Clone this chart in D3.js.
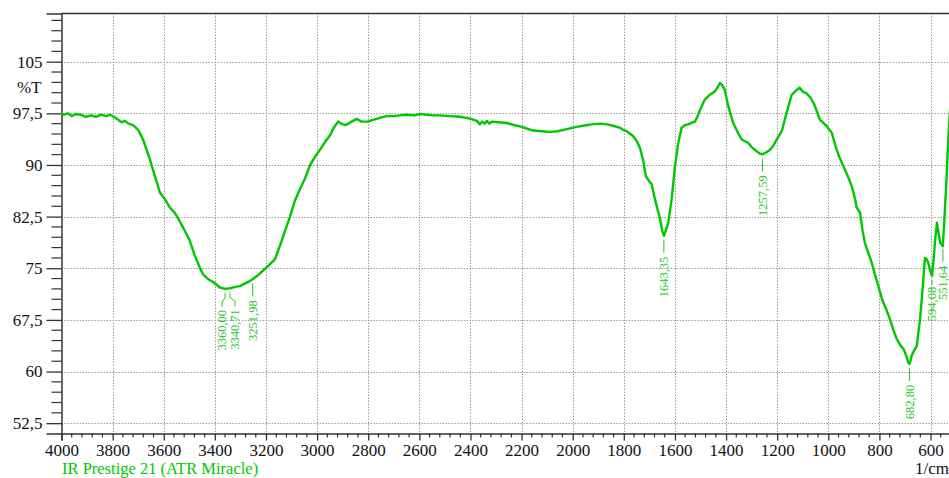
<!DOCTYPE html>
<html>
<head>
<meta charset="utf-8">
<script src="https://cdn.jsdelivr.net/npm/d3@7"></script>
<style>
  html, body { margin: 0; padding: 0; background: #fff; }
  svg { display: block; }
  text { font-family: "Liberation Serif", "Times New Roman", serif; }
</style>
</head>
<body>
<svg id="chart" width="949" height="478"></svg>
<script>
// IR spectrum: wavenumber (1/cm) and transmittance (%T)
const wavenumber = [
  4000, 3990, 3975, 3960, 3945, 3925, 3905, 3885, 3865, 3845, 3825, 3810, 3795, 3780, 3765, 3752,
  3738, 3720, 3700, 3681, 3654, 3634, 3615, 3595, 3576, 3556, 3540, 3517, 3500, 3478, 3460, 3446,
  3425, 3407, 3380, 3360, 3340, 3320, 3302, 3282, 3265, 3252, 3231, 3204, 3184, 3165, 3145, 3125,
  3106, 3087, 3067, 3048, 3027, 3008, 2989, 2968, 2948, 2935, 2918, 2905, 2891, 2878, 2865, 2845,
  2826, 2801, 2785, 2767, 2748, 2728, 2700, 2676, 2650, 2620, 2598, 2570, 2545, 2520, 2480, 2441,
  2410, 2390, 2375, 2363, 2355, 2345, 2335, 2326, 2317, 2290, 2258, 2230, 2206, 2180, 2155, 2120,
  2089, 2060, 2023, 1990, 1960, 1925, 1893, 1865, 1842, 1815, 1803, 1789, 1764, 1750, 1737, 1725,
  1714, 1700, 1691, 1678, 1658, 1648, 1643, 1636, 1626, 1613, 1600, 1587, 1574, 1560, 1548, 1535,
  1522, 1512, 1502, 1483, 1463, 1443, 1433, 1424, 1415, 1405, 1391, 1372, 1355, 1339, 1313, 1300,
  1287, 1270, 1258, 1250, 1240, 1228, 1215, 1202, 1182, 1163, 1143, 1124, 1112, 1098, 1085, 1070,
  1055, 1045, 1033, 1010, 987, 967, 955, 941, 925, 908, 895, 889, 876, 866, 857, 843,
  830, 817, 804, 790, 775, 759, 745, 732, 718, 706, 695, 687, 683, 678, 674, 665,
  654, 648, 641, 630, 622, 615, 609, 600, 594, 588, 581, 575, 568, 562, 556, 552,
  546, 539, 530, 522
];
const transmittance = [
  97.5, 97.3, 97.5, 97.1, 97.4, 97.3, 97.0, 97.2, 97.0, 97.3, 97.1, 97.3, 97.0, 96.6, 96.2, 96.4,
  96.0, 95.8, 95.1, 93.7, 90.8, 88.3, 86.0, 85.0, 83.8, 83.0, 82.0, 80.4, 79.2, 76.8, 75.2, 74.1,
  73.4, 73.0, 72.2, 72.0, 72.1, 72.3, 72.4, 72.8, 73.1, 73.4, 74.0, 74.9, 75.6, 76.3, 78.3, 80.5,
  82.5, 84.8, 86.5, 88.0, 90.0, 91.2, 92.2, 93.4, 94.4, 95.4, 96.3, 96.0, 95.8, 96.0, 96.3, 96.7,
  96.3, 96.3, 96.5, 96.7, 96.9, 97.1, 97.1, 97.2, 97.3, 97.2, 97.4, 97.3, 97.2, 97.2, 97.1, 97.0,
  96.8, 96.6, 96.4, 95.9, 96.3, 96.0, 96.4, 96.0, 96.3, 96.2, 96.1, 95.8, 95.6, 95.3, 95.0, 94.9,
  94.8, 94.9, 95.2, 95.5, 95.7, 95.9, 96.0, 95.9, 95.7, 95.4, 95.1, 94.9, 94.2, 93.5, 92.5, 90.8,
  88.4, 87.6, 87.2, 85.0, 82.1, 80.2, 79.7, 80.5, 81.6, 85.0, 89.8, 93.2, 95.4, 95.8, 95.9, 96.1,
  96.3, 97.0, 98.0, 99.5, 100.2, 100.7, 101.3, 101.9, 101.6, 100.9, 98.5, 96.1, 94.8, 93.7, 93.2, 92.6,
  92.2, 91.7, 91.55, 91.7, 91.9, 92.2, 92.8, 93.7, 94.9, 97.6, 100.2, 100.9, 101.2, 100.6, 100.4, 99.8,
  98.8, 97.8, 96.6, 95.8, 94.7, 92.2, 91.0, 89.8, 88.5, 86.9, 85.0, 83.8, 83.1, 80.5, 78.7, 77.2,
  75.8, 74.0, 72.4, 70.5, 69.2, 67.6, 66.0, 64.7, 63.8, 63.3, 62.3, 61.3, 61.1, 61.6, 62.3, 63.0,
  63.7, 65.5, 67.6, 72.5, 76.5, 76.3, 75.8, 74.5, 73.9, 76.3, 79.5, 81.6, 80.0, 78.7, 78.4, 78.2,
  82.0, 86.9, 94.2, 99.0
];

// Picked peaks
const peakWavenumbers = [3360.00, 3340.71, 3251.98, 1643.35, 1257.59, 682.80, 594.08, 551.64];
const peakLabels = ["3360,00", "3340,71", "3251,98", "1643,35", "1257,59", "682,80", "594,08", "551,64"];

// Axis ticks
const xTickValues = [4000, 3800, 3600, 3400, 3200, 3000, 2800, 2600, 2400, 2200, 2000, 1800, 1600, 1400, 1200, 1000, 800, 600];
const xTickLabels = ["4000", "3800", "3600", "3400", "3200", "3000", "2800", "2600", "2400", "2200", "2000", "1800", "1600", "1400", "1200", "1000", "800", "600"];
const yTickValues = [52.5, 60, 67.5, 75, 82.5, 90, 97.5, 105];
const yTickLabels = ["52,5", "60", "67,5", "75", "82,5", "90", "97,5", "105"];

const instrumentName = "IR Prestige 21 (ATR Miracle)";
const xUnit = "1/cm";
const yUnit = "%T";

// ---------------------------------------------------------------
const svg = d3.select("#chart");
const plotLeft = 61.5, plotTop = 13.5, plotBottom = 433.5, plotRight = 949;
const green = "#00c800";
const labelGreen = "#22c822";

const x = d3.scaleLinear().domain([4000, 400]).range([plotLeft, plotLeft + 3600 * 0.2556]);
const y = d3.scaleLinear().domain([51, 112]).range([plotBottom, plotTop]);

const spectrum = wavenumber.map((w, i) => ({ w, t: transmittance[i] }));

// Grid
const grid = svg.append("g").attr("stroke", "#9a9a9a").attr("stroke-width", 1)
  .attr("stroke-dasharray", "1.5,1.5");
grid.selectAll("line.v").data(xTickValues.slice(1)).join("line").attr("class", "v")
  .attr("x1", d => Math.round(x(d)) + 0.5).attr("x2", d => Math.round(x(d)) + 0.5)
  .attr("y1", plotTop).attr("y2", plotBottom);
grid.selectAll("line.h").data(yTickValues).join("line").attr("class", "h")
  .attr("x1", plotLeft).attr("x2", plotRight)
  .attr("y1", d => Math.round(y(d)) + 0.5).attr("y2", d => Math.round(y(d)) + 0.5);

// Frame (top edge)
svg.append("line").attr("x1", plotLeft).attr("x2", plotRight).attr("y1", plotTop).attr("y2", plotTop)
  .attr("stroke", "#333").attr("stroke-width", 1.5);

// X axis
const minorX = d3.range(4000, 399, -40).filter(d => d % 200 !== 0);
const xAxis = d3.axisBottom(x).tickValues(xTickValues)
  .tickFormat((d, i) => xTickLabels[i]).tickSize(7).tickPadding(3);
const gx = svg.append("g").attr("transform", `translate(0,${plotBottom})`).call(xAxis);
gx.select(".domain").attr("stroke", "#333").attr("stroke-width", 1.5);
gx.selectAll(".tick line").attr("stroke", "#333").attr("stroke-width", 1.3);
gx.selectAll(".tick text").attr("font-size", 17).attr("fill", "#111")
  .attr("font-family", "Liberation Serif, serif");
gx.selectAll("line.minor").data(minorX).join("line").attr("class", "minor")
  .attr("x1", d => x(d)).attr("x2", d => x(d)).attr("y1", 0).attr("y2", 4)
  .attr("stroke", "#333").attr("stroke-width", 1.2);

// Y axis
const minorY = d3.range(52.5, 111.6, 1.5).filter(d => !yTickValues.some(v => Math.abs(v - d) < 1e-6));
const yAxis = d3.axisLeft(y).tickValues(yTickValues)
  .tickFormat((d, i) => yTickLabels[i]).tickSize(15).tickPadding(4);
const gy = svg.append("g").attr("transform", `translate(${plotLeft},0)`).call(yAxis);
gy.select(".domain").attr("stroke", "#333").attr("stroke-width", 1.5);
gy.selectAll(".tick line").attr("stroke", "#333").attr("stroke-width", 1.3);
gy.selectAll(".tick text").attr("font-size", 17).attr("fill", "#111")
  .attr("font-family", "Liberation Serif, serif");
gy.selectAll("line.minor").data(minorY).join("line").attr("class", "minor")
  .attr("x1", -10).attr("x2", 0).attr("y1", d => y(d)).attr("y2", d => y(d))
  .attr("stroke", "#333").attr("stroke-width", 1.2);

// Axis titles
svg.append("text").attr("x", 41.5).attr("y", y((105 + 97.5) / 2)).attr("dy", "0.35em")
  .attr("text-anchor", "end").attr("font-size", 17).attr("fill", "#111").text(yUnit);
svg.append("text").attr("x", 915).attr("y", 474).attr("font-size", 17).attr("fill", "#111").text(xUnit);
svg.append("text").attr("x", 62).attr("y", 474).attr("font-size", 16.5).attr("fill", green).text(instrumentName);

// Spectrum trace
const clip = svg.append("clipPath").attr("id", "plot-clip");
clip.append("rect").attr("x", plotLeft).attr("y", plotTop)
  .attr("width", plotRight - plotLeft).attr("height", plotBottom - plotTop);
svg.append("path").datum(spectrum)
  .attr("clip-path", "url(#plot-clip)")
  .attr("fill", "none").attr("stroke", green).attr("stroke-width", 2.4)
  .attr("stroke-linejoin", "round").attr("stroke-linecap", "round")
  .attr("d", d3.line().x(d => x(d.w)).y(d => y(d.t)));

// Peak markers: leader line + rotated value label
const bis = d3.bisector(d => -d.w).left;
function traceAt(w) {
  const i = Math.max(1, Math.min(spectrum.length - 1, bis(spectrum, -w)));
  const a = spectrum[i - 1], b = spectrum[i];
  const f = (w - a.w) / (b.w - a.w);
  return a.t + f * (b.t - a.t);
}
// label offsets (px) for crowded peaks, and leader lengths
const labelShift = { "3360,00": -3, "3340,71": 5 };
const shortLead = { "594,08": true };

const peaks = svg.append("g");
peakWavenumbers.forEach((w, i) => {
  const lbl = peakLabels[i];
  const px = x(w);
  const py = y(traceAt(w));
  const shift = labelShift[lbl] || 0;
  const lx = px + shift;
  let pts, textTop;
  if (shortLead[lbl]) {
    pts = [[px, py + 4], [px, py + 9]];
    textTop = py + 11;
  } else if (shift !== 0) {
    pts = [[px, py + 4], [px, py + 9], [lx, py + 13], [lx, py + 18]];
    textTop = py + 21;
  } else {
    pts = [[px, py + 4], [px, py + 17]];
    textTop = py + 21;
  }
  peaks.append("path").attr("d", d3.line()(pts))
    .attr("fill", "none").attr("stroke", labelGreen).attr("stroke-width", 1);
  peaks.append("text")
    .attr("transform", `translate(${lx},${textTop}) rotate(-90)`)
    .attr("text-anchor", "end").attr("dy", "0.35em")
    .attr("font-size", 12.5).attr("fill", labelGreen).text(lbl);
});
</script>
</body>
</html>
